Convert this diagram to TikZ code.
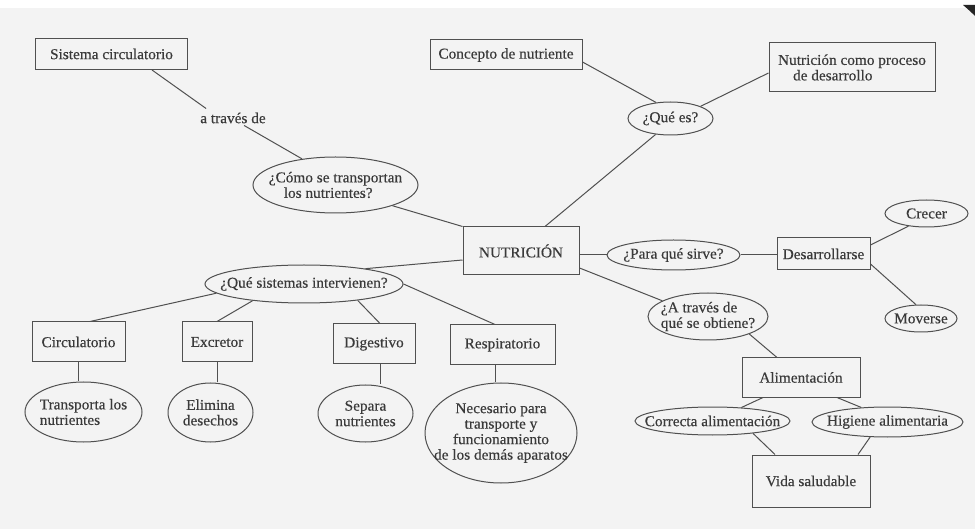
\documentclass[tikz,border=0pt]{standalone}
\usepackage{fontspec}
\setmainfont[FakeStretch=1.02, FakeBold=0.4]{Liberation Serif}
\usetikzlibrary{shapes.geometric}
\definecolor{paper}{HTML}{F3F3F3}
\definecolor{ink}{HTML}{3A3A3A}
\definecolor{wire}{HTML}{505050}
\tikzset{
  every node/.style={font=\fontsize{15}{15.5}\selectfont, text=ink, inner sep=0pt},
  sz/.style n args={2}{minimum width=#1pt, minimum height=#2pt},
  box/.style={draw=wire, line width=1pt, rectangle, align=center},
  bubble/.style={draw=wire, line width=1pt, ellipse},
  link/.style={draw=wire, line width=1pt},
}
\begin{document}
\begin{tikzpicture}[x=1pt, y=-1pt]
\useasboundingbox (0,0) rectangle (975,529);
% paper
\fill[paper] (0,0) rectangle (975,529);
\fill[white] (0,0) rectangle (975,8);
\fill[black!85] (963,5) -- (975,5) -- (975,16) .. controls (970,11) .. (963,5) -- cycle;

% concepts
\node[box, sz={152}{31}] (sc) at (111.5,54) {Sistema circulatorio};
\node[inner sep=2pt] (atd) at (233,118) {a través de};
\node[bubble, sz={165}{56}, label={[align=left]center:{¿Cómo se transportan\\\hspace*{1em}los nutrientes?}}] (como) at (335.5,185) {};
\node[box, sz={116}{48}] (nut) at (521,251) {NUTRICIÓN};
\node[box, sz={152}{30}] (cdn) at (506,55) {Concepto de nutriente};
\node[box, sz={166}{49}, align=left] (ncp) at (852,67.5) {Nutrición como proceso\\\hspace*{1em}de desarrollo};
\node[bubble, sz={85}{33}, label={center:{¿Qué es?}}] (que) at (670.5,118.5) {};
\node[bubble, sz={133}{30}, label={center:{¿Para qué sirve?}}] (para) at (673.5,255) {};
\node[box, sz={93}{32}] (des) at (823.5,254) {Desarrollarse};
\node[bubble, sz={83}{27}, label={center:{Crecer}}] (crecer) at (926.5,213.5) {};
\node[bubble, sz={72}{27}, label={center:{Moverse}}] (moverse) at (921,318.5) {};
\node[bubble, sz={120}{47}, label={[align=left]center:{¿A través de\\qué se obtiene?}}] (atq) at (708,316.5) {};
\node[box, sz={118}{39}] (ali) at (801,377.5) {Alimentación};
\node[bubble, sz={155}{28}, label={center:{Correcta alimentación}}] (cor) at (712.5,421) {};
\node[bubble, sz={151}{30}, label={center:{Higiene alimentaria}}] (hig) at (887.5,422) {};
\node[box, sz={118}{52}] (vida) at (811,481) {Vida saludable};
\node[bubble, sz={198}{38}, label={center:{¿Qué sistemas intervienen?}}] (qsi) at (304,284) {};
\node[box, sz={93}{40}] (circ) at (78.5,342) {Circulatorio};
\node[box, sz={70}{40}] (exc) at (217,342) {Excretor};
\node[box, sz={82}{40}] (dig) at (374,344) {Digestivo};
\node[box, sz={105}{40}] (resp) at (502.5,345) {Respiratorio};
\node[bubble, sz={117}{60}, label={[align=left]center:{Transporta los\\nutrientes}}] (tlos) at (83.5,412) {};
\node[bubble, sz={85}{59}, label={[align=center]center:{Elimina\\desechos}}] (elim) at (210.5,412.5) {};
\node[bubble, sz={95}{57}, label={[align=center]center:{Separa\\nutrientes}}] (sep) at (365.5,413.5) {};
\node[bubble, sz={152}{100}, label={[align=center]center:{Necesario para\\transporte y\\funcionamiento\\de los demás aparatos}}] (nec) at (501,433) {};

% links
\draw[link] ([xshift=40.5pt]sc.south) -- ([xshift=8pt,yshift=2pt]atd.north west);
\draw[link] ([xshift=46pt]atd.south west) -- (como.142);
\draw[link] (como.-20) -- (nut.north west);
\draw[link] ([yshift=-7pt]cdn.east) -- (que.132);
\draw[link] (que.22) -- ([yshift=-5.5pt]ncp.west);
\draw[link] (que.-133) -- ([xshift=24pt]nut.north);
\draw[link] ([yshift=-4pt]nut.east) -- (para.west);
\draw[link] (para.east) -- ([yshift=-1pt]des.west);
\draw[link] ([yshift=9pt]des.east) -- (crecer.-145);
\draw[link] ([yshift=-10pt]des.east) -- (moverse.110);
\draw[link] ([yshift=-17pt]nut.east) -- (atq.161);
\draw[link] (atq.-23) -- ([xshift=-24pt]ali.north);
\draw[link] ([xshift=-38pt]ali.south) -- (cor.25);
\draw[link] ([xshift=36pt]ali.south) -- (hig.151);
\draw[link] (cor.-17) -- ([xshift=-36pt]vida.north);
\draw[link] (hig.-139) -- ([xshift=47pt]vida.north);
\draw[link] ([yshift=-9pt]nut.west) -- (qsi.14);
\draw[link] (qsi.-174) -- ([xshift=11.5pt]circ.north);
\draw[link] (qsi.-162) -- (exc.north);
\draw[link] (qsi.-17) -- ([xshift=6pt]dig.north);
\draw[link] (qsi.east) -- ([xshift=-7.5pt]resp.north);
\draw[link] (circ.south) -- (circ.south |- tlos.north);
\draw[link] (exc.south) -- (exc.south |- elim.north);
\draw[link] ([xshift=6pt]dig.south) -- ([xshift=6pt]dig.south |- sep.north);
\draw[link] ([xshift=-7pt]resp.south) -- ([xshift=-7pt]resp.south |- nec.north);
\end{tikzpicture}
\end{document}
